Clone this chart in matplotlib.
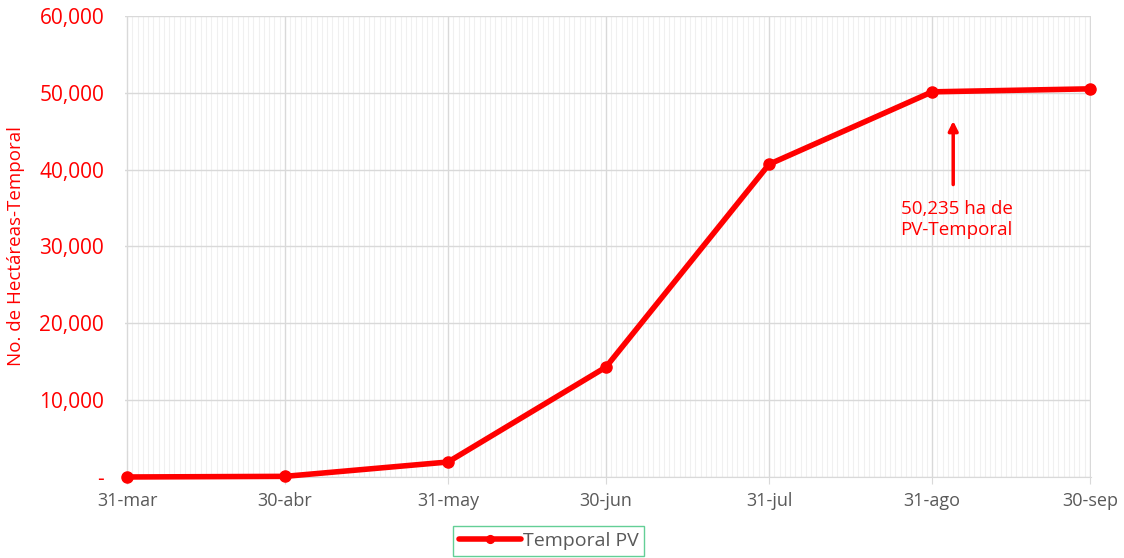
import numpy as np
import matplotlib
matplotlib.use("Agg")
import matplotlib.pyplot as plt
import matplotlib.dates as mdates
import matplotlib.ticker as mticker
from datetime import date

fechas = [date(2021, 3, 31), date(2021, 4, 30), date(2021, 5, 31), date(2021, 6, 30),
          date(2021, 7, 31), date(2021, 8, 31), date(2021, 9, 30)]
etiquetas = ["31-mar", "30-abr", "31-may", "30-jun", "31-jul", "31-ago", "30-sep"]
hectareas = [0, 80, 1950, 14300, 40700, 50130, 50520]

rojo = "#ff0000"
gris = "#595959"

plt.rcParams["font.family"] = ["Open Sans", "DejaVu Sans"]

fig = plt.figure(figsize=(11.24, 5.58), dpi=100)
ax = fig.add_axes([0.1112, 0.1452, 0.8595, 0.8261])

x = mdates.date2num(fechas)
ax.plot(x, hectareas, color=rojo, lw=4, marker="o", ms=8, label="Temporal PV",
        solid_capstyle="round", zorder=5, clip_on=False)

ax.set_xlim(x[0] - 0.4, x[-1] + 0.2)
ax.set_ylim(0, 60000)

ax.xaxis.set_major_locator(mticker.FixedLocator(x))
ax.xaxis.set_major_formatter(mticker.FixedFormatter(etiquetas))
ax.xaxis.set_minor_locator(mdates.DayLocator())
ax.yaxis.set_major_locator(mticker.MultipleLocator(10000))
ax.yaxis.set_major_formatter(mticker.FuncFormatter(lambda v, p: "-" if v == 0 else f"{v:,.0f}"))

ax.grid(which="minor", axis="x", color="#f0f0f0", lw=0.8)
ax.grid(which="major", axis="x", color="#d9d9d9", lw=1)
ax.grid(which="major", axis="y", color="#d9d9d9", lw=1)
ax.set_axisbelow(True)

for s in ["top", "right", "left"]:
    ax.spines[s].set_visible(False)
ax.spines["bottom"].set_color("#d9d9d9")

ax.tick_params(axis="x", which="major", colors="#d9d9d9", length=5, labelcolor=gris,
               labelsize=13, pad=6)
ax.tick_params(axis="x", which="minor", length=0)
ax.tick_params(axis="y", length=0, labelcolor=rojo, labelsize=15, pad=15)

ax.set_ylabel("No. de Hectáreas-Temporal", color=rojo, fontsize=13.5)
ax.yaxis.set_label_coords(-0.103, 0.5)

# flecha y nota
x_flecha = mdates.date2num(date(2021, 9, 4))
ax.annotate("", xy=(x_flecha, 46700), xytext=(x_flecha, 37700),
            arrowprops=dict(arrowstyle="-|>", color=rojo, lw=2.5, mutation_scale=14))
ax.text(mdates.date2num(date(2021, 8, 25)), 36000, "50,235 ha de\nPV-Temporal",
        color=rojo, fontsize=13.5, ha="left", va="top", linespacing=1.15)

leg = fig.legend(loc="lower center", bbox_to_anchor=(0.488, 0.0), frameon=True,
                 fontsize=14, fancybox=False, handlelength=3.2, borderpad=0.3,
                 labelcolor=gris, handletextpad=0.1, borderaxespad=0.1, markerscale=0.7)
leg.get_frame().set_edgecolor("#3cc47c")
leg.get_frame().set_linewidth(1)

fig.savefig("out.png", dpi=100)
